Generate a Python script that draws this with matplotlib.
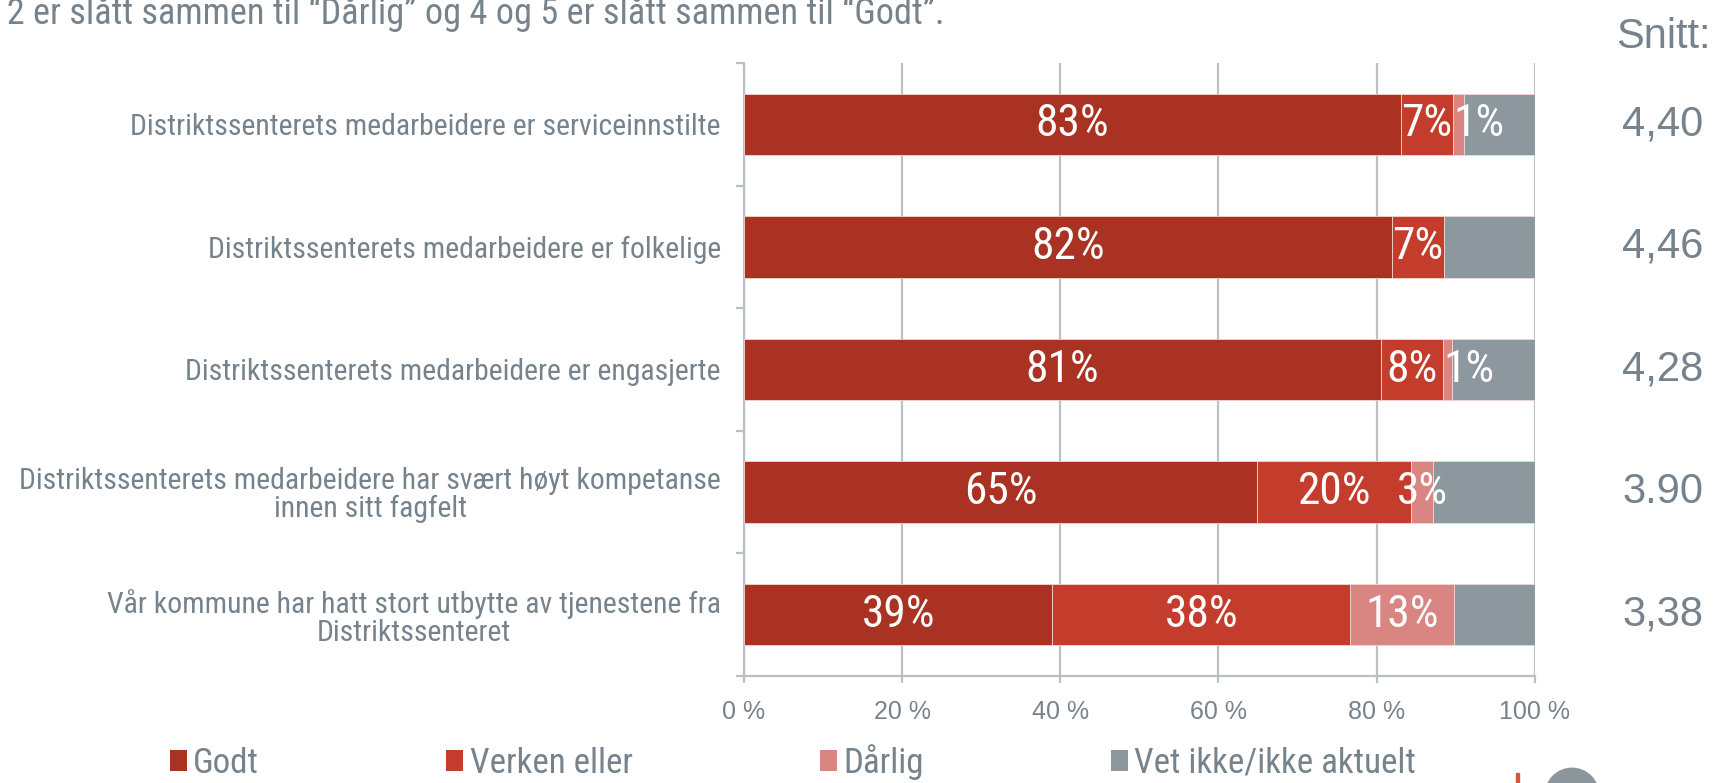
import matplotlib
matplotlib.use("Agg")
import matplotlib.pyplot as plt
from matplotlib.patches import Patch, Ellipse, Rectangle
from matplotlib import transforms, font_manager

plt.rcParams['font.family'] = ['Liberation Sans', 'DejaVu Sans']

# ---------------- data ----------------
categories = [
    "Distriktssenterets medarbeidere er serviceinnstilte",
    "Distriktssenterets medarbeidere er folkelige",
    "Distriktssenterets medarbeidere er engasjerte",
    "Distriktssenterets medarbeidere har svært høyt kompetanse\ninnen sitt fagfelt",
    "Vår kommune har hatt stort utbytte av tjenestene fra\nDistriktssenteret",
]
series_names = ["Godt", "Verken eller", "Dårlig", "Vet ikke/ikke aktuelt"]
godt = [83.1, 81.9, 80.6, 64.9, 39.0]
verken = [6.6, 6.6, 7.8, 19.5, 37.7]
darlig = [1.3, 0.0, 1.2, 2.7, 13.1]
vet_ikke = [9.0, 11.5, 10.4, 12.9, 10.2]
snitt = ["4,40", "4,46", "4,28", "3.90", "3,38"]
x_ticks = [0, 20, 40, 60, 80, 100]
x_tick_labels = ["0 %", "20 %", "40 %", "60 %", "80 %", "100 %"]
note = "1 og 2 er slått sammen til “Dårlig” og 4 og 5 er slått sammen til “Godt”."

# ---------------- fonts ----------------
NARROW = None
for fam in ["Liberation Sans Narrow", "Nimbus Sans Narrow", "Arial Narrow",
            "Roboto Condensed", "PT Sans Narrow", "Archivo Narrow"]:
    try:
        font_manager.findfont(font_manager.FontProperties(family=fam),
                              fallback_to_default=False)
        NARROW = [fam, "DejaVu Sans"]
        break
    except Exception:
        pass
if NARROW is None:
    NARROW = ["Liberation Sans", "DejaVu Sans"]

W, H = 1726, 783
fig = plt.figure(figsize=(W / 100, H / 100), dpi=100)
renderer = fig.canvas.get_renderer()


def fit_size(s, target_px, family):
    t = fig.text(0, 0, s, fontsize=20, family=family)
    w = t.get_window_extent(renderer).width
    t.remove()
    return 20 * target_px / w


cat_fs = fit_size("Distriktssenterets medarbeidere er serviceinnstilte", 590, NARROW)
bar_fs = fit_size("83%", 73.8, NARROW)
leg_fs = fit_size("Vet ikke/ikke aktuelt", 282, NARROW)
note_fs = fit_size("2 er slått sammen til “Dårlig” og 4 og 5 er slått sammen til “Godt”.", 936, NARROW)

# ---------------- style ----------------
colors = ["#A93222", "#C43C2B", "#D98582", "#8C979E"]
text_col = "#76838C"
axis_col = "#BBC0C5"

ax = fig.add_axes([744 / W, 1 - 676 / H, (1534.7 - 744) / W, (676 - 63) / H])

series = [godt, verken, darlig, vet_ikke]
ypos = list(range(len(categories)))
left = [0.0] * len(categories)
for k, vals in enumerate(series):
    ax.barh(ypos, vals, left=left, height=0.5, color=colors[k],
            edgecolor="#F2D6D2", linewidth=0.6, zorder=3)
    if k < 3:
        for i, v in enumerate(vals):
            if v <= 0:
                continue
            if v < 2:
                xx, ha = left[i], "left"
            else:
                xx, ha = left[i] + v / 2, "center"
            ax.text(xx, i, f"{round(v)}%", ha=ha, va="center", color="white",
                    fontsize=bar_fs, family=NARROW, zorder=4)
    left = [l + v for l, v in zip(left, vals)]

ax.set_xlim(0, 100)
ax.set_ylim(len(categories) - 0.5, -0.5)

# grid and spines
ax.set_axisbelow(True)
ax.xaxis.grid(True, color=axis_col, linewidth=1.6, zorder=0)
for s in ["top", "right"]:
    ax.spines[s].set_visible(False)
for s in ["left", "bottom"]:
    ax.spines[s].set_color(axis_col)
    ax.spines[s].set_linewidth(1.6)

ax.set_xticks(x_ticks)
ax.set_xticklabels(x_tick_labels)
ax.tick_params(axis="x", direction="out", length=5, width=1.6, color=axis_col,
               labelsize=18, labelcolor=text_col, pad=12)

bounds = [i - 0.5 for i in range(len(categories) + 1)]
ax.set_yticks(bounds)
ax.set_yticklabels([""] * len(bounds))
ax.tick_params(axis="y", which="major", direction="out", length=5.5, width=1.6,
               color=axis_col)
em_px = cat_fs * 100 / 72
ls = max(0.7, (28.6 / em_px - 0.21) / 0.75)
ax.set_yticks(ypos, minor=True)
ax.set_yticklabels(categories, minor=True, fontsize=cat_fs, color=text_col,
                   family=NARROW, multialignment="center", linespacing=ls)
ax.tick_params(axis="y", which="minor", length=0, pad=16.6)

# Snitt column
fig.text(1711 / W, 1 - 48 / H, "Snitt:", ha="right", va="baseline",
         fontsize=30, color=text_col)
tr = transforms.blended_transform_factory(fig.transFigure, ax.transData)
for i, s in enumerate(snitt):
    ax.text(1703 / W, i, s, transform=tr, ha="right", va="center",
            fontsize=30, color=text_col)

# top note (clipped at the top/left edge as in the original)
fig.text(944.5 / W, 1 - 24 / H, note, ha="right", va="baseline",
         fontsize=note_fs, family=NARROW, color=text_col)

# legend
lpx = leg_fs * 100 / 72
handles = [Patch(facecolor=c, edgecolor="none") for c in colors]
ax.legend(handles, series_names, ncol=4, loc="center left",
          bbox_to_anchor=(170 / W, 1 - 762 / H), bbox_transform=fig.transFigure,
          frameon=False, prop={"family": NARROW, "size": leg_fs},
          handlelength=16.5 / lpx, handleheight=19 / lpx,
          handletextpad=6.6 / lpx, columnspacing=187.5 / lpx,
          borderpad=0, borderaxespad=0, labelcolor=text_col)

# clipped logo fragment bottom right
fig.add_artist(Ellipse((1572 / W, 1 - 795 / H), 2 * 26.7 / W, 2 * 26.7 / H,
                       transform=fig.transFigure, color="#8A959C"))
fig.add_artist(Rectangle((1516 / W, 0), 3 / W, 10 / H,
                         transform=fig.transFigure, color="#D9533F"))

fig.savefig("out.png", dpi=100)
